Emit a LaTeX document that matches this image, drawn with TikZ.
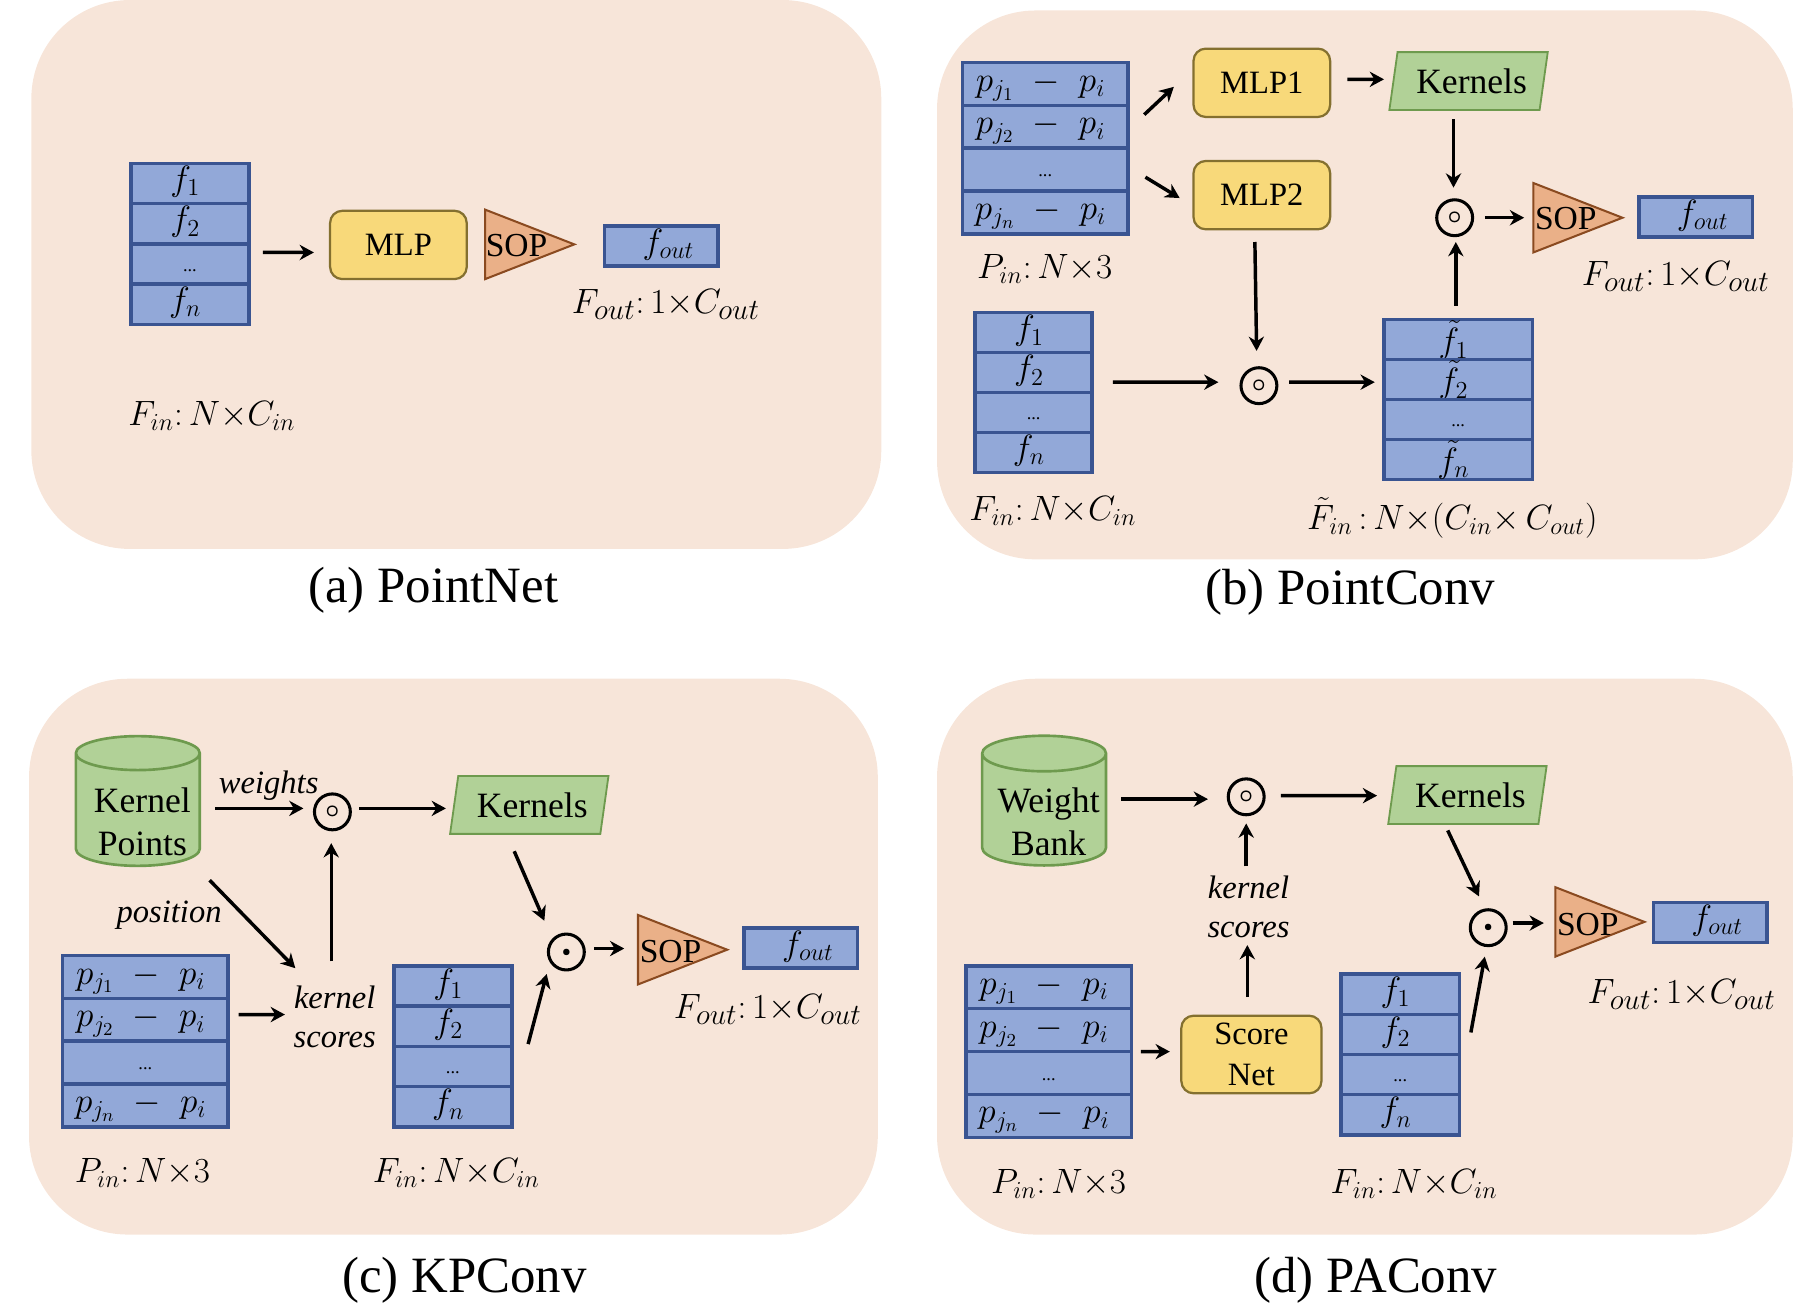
\documentclass[tikz,border=0pt]{standalone}
\usepackage{amsmath,amssymb}
\usepackage{fontspec}
\setmainfont{Liberation Serif}
\usepackage{xcolor}
\usetikzlibrary{shapes,arrows.meta,positioning,calc}

\definecolor{panelbg}{HTML}{F7E5D9}
\definecolor{cellfill}{HTML}{92A8D8}
\definecolor{celldraw}{HTML}{3A5491}
\definecolor{mlpfill}{HTML}{F8D97A}
\definecolor{mlpdraw}{HTML}{84702F}
\definecolor{kernfill}{HTML}{B1D197}
\definecolor{kerndraw}{HTML}{6E9A4E}
\definecolor{sopfill}{HTML}{EAB088}
\definecolor{sopdraw}{HTML}{8A4A20}

% one column of four cells: name, top, width, cell height, first, second, last
\newcommand{\featstack}[7]{%
    \node[cell, minimum width=#3, minimum height=#4, anchor=north] (#11) at (#2) {#5\kern4.5pt};
    \node[cell, minimum width=#3, minimum height=#4, below=0pt of #11] (#12) {#6\kern4.5pt};
    \node[cell, minimum width=#3, minimum height=#4, below=0pt of #12] (#13) {\fontsize{9}{10}\selectfont ...};
    \node[cell, minimum width=#3, minimum height=#4, below=0pt of #13] (#14) {#7\kern4.5pt};
}
\newcommand{\pjn}[1]{$p_{j_{#1}}\;-\,\,p_i$}
\newcommand{\ftil}[1]{\raisebox{-3pt}{$\tilde f_{#1}$}}
% text of a cylinder sits above its middle, so it is pushed down and to the right
\newcommand{\banklines}[2]{\kern4.5pt\raisebox{-5.7pt}[\height][\depth]{#1}\\\kern4.5pt\raisebox{-5.7pt}[\height][\depth]{#2}}

\begin{document}
\begin{tikzpicture}[
    x=0.02cm, y=-0.02cm,
    panel/.style={rectangle, fill=panelbg, rounded corners=1.7cm, inner sep=0pt},
    caption/.style={font=\fontsize{25}{30}\selectfont},
    cell/.style={rectangle, draw=celldraw, fill=cellfill, line width=1.7pt, inner sep=0pt, outer sep=0pt, font=\fontsize{18}{20}\selectfont, text height=11pt, text depth=4pt},
    mlp/.style={rectangle, draw=mlpdraw, fill=mlpfill, line width=1.1pt, rounded corners=6pt, minimum width=2.36cm, minimum height=1.18cm, align=center, font=\fontsize{16}{19.5}\selectfont, inner sep=0pt},
    kern/.style={trapezium, trapezium left angle=75, trapezium right angle=105, draw=kerndraw, fill=kernfill, line width=0.9pt, minimum width=2.74cm, minimum height=1cm, trapezium stretches=true, inner sep=0pt, font=\fontsize{17.5}{20}\selectfont, execute at begin node=\hspace*{3pt}},
    sop/.style={isosceles triangle, isosceles triangle stretches, draw=sopdraw, fill=sopfill, line width=1pt, minimum height=1.54cm, minimum width=1.2cm, inner sep=0pt, anchor=lower side},
    soptext/.style={font=\fontsize{16.5}{20}\selectfont, inner sep=0pt},
    fout/.style={rectangle, draw=celldraw, fill=cellfill, line width=1.7pt, minimum width=1.96cm, minimum height=0.69cm, inner sep=0pt, font=\fontsize{18.5}{20}\selectfont, text height=11pt, text depth=4pt},
    bank/.style={cylinder, shape border rotate=90, shape aspect=0.32, cylinder uses custom fill, cylinder body fill=kernfill, cylinder end fill=kernfill, draw=kerndraw, line width=1.3pt, minimum width=2.14cm, minimum height=2.24cm, inner sep=0pt, align=center, font=\fontsize{17.5}{21.5}\selectfont},
    dotprod/.style={circle, draw=black, line width=1.5pt, minimum size=0.62cm, inner sep=0pt, font=\fontsize{12}{14}\selectfont\boldmath},
    shape label/.style={inner sep=0pt, font=\fontsize{18}{22}\selectfont},
    out label/.style={inner sep=0pt, font=\fontsize{19}{22}\selectfont},
    wordlabel/.style={inner sep=0pt, align=center, font=\fontsize{16}{19.3}\selectfont\itshape},
    arr/.style={-{Stealth[length=7pt,width=7.5pt]}, line width=1.7pt, color=black}
]
    \useasboundingbox (0,0) rectangle (1568,1131);

    % Panels
    \node[panel, minimum width=14.68cm, minimum height=9.48cm]  (pa) at (394,237)    {};
    \node[panel, minimum width=14.78cm, minimum height=9.48cm]  (pb) at (1178.5,246) {};
    \node[panel, minimum width=14.66cm, minimum height=9.6cm]   (pc) at (391.5,826)  {};
    \node[panel, minimum width=14.78cm, minimum height=9.6cm]   (pd) at (1178.5,826) {};

    \node[caption] (capa) at (374,510)   {(a) PointNet};
    \node[caption] (capb) at (1166,511)  {(b) PointConv};
    \node[caption] (capc) at (401,1105)  {(c) KPConv};
    \node[caption] (capd) at (1188,1105) {(d) PAConv};

    % (a) PointNet
    \featstack{fa}{164,141}{2.04cm}{0.695cm}{$f_1$}{$f_2$}{$f_n$}
    \node[mlp]  (mlpa) at (344,211.5) {MLP};
    \node[sop]  (sopa) at (418,211)   {};
    \node[soptext] (sopta) at (446,212) {SOP};
    \node[fout] (fouta) at (571,212.5) {\hspace{7pt}$f_{out}$};
    \node[out label] (lfouta) at (575,263) {$F_{out}{:}\,1{\times}C_{out}$};
    \node[shape label] (lfina)  at (183,359) {$F_{in}{:}\, N{\times}C_{in}$};

    \draw[arr] ([shift={(12,7.5)}]fa2.south east) -- ([shift={(-13,6.5)}]mlpa.west);

    % (b) PointConv
    \featstack{pb}{902.5,54}{2.86cm}{0.74cm}{\pjn{1}}{\pjn{2}}{\pjn{n}}
    \featstack{fb}{892.5,270}{2.02cm}{0.69cm}{$f_1$}{$f_2$}{$f_n$}
    \featstack{ftb}{1259,276}{2.56cm}{0.69cm}{\ftil{1}}{\ftil{2}}{\ftil{n}}
    \node[mlp]  (mlpb) at (1089.5,71.5)  {MLP1};
    \node[mlp]  (mlpc) at (1089.5,168.5) {MLP2};
    \node[kern] (kernb) at (1268,70)     {Kernels};
    \node[dotprod] (odb) at (1256,188)   {$\circ$};
    \node[dotprod] (odc) at (1087,333)   {$\circ$};
    \node[sop]  (sopb) at (1323,188)     {};
    \node[soptext] (soptb) at (1352,189) {SOP};
    \node[fout] (foutb) at (1464,187.5)  {\hspace{7pt}$f_{out}$};
    \node[shape label] (lpinb)  at (902,232)  {$P_{in}{:}\, N{\times}3$};
    \node[out label] (lfoutb) at (1447,239) {$F_{out}{:}\,1{\times}C_{out}$};
    \node[shape label] (lfinb)  at (909,441)  {$F_{in}{:}\, N{\times}C_{in}$};
    \node[shape label] (lftb)   at (1254,447) {$\tilde F_{in}\,{:}\,N{\times}(C_{in}{\times}\,C_{out})$};

    \draw[arr] ([shift={(14,-29)}]pb2.south east) -- ([shift={(-16,3.5)}]mlpb.west);
    \draw[arr] ([shift={(15,25)}]pb2.south east)  -- ([shift={(-11,2.5)}]mlpc.west);
    \draw[arr] ([shift={(14,-3)}]mlpb.east)       -- ([shift={(-73,-1.5)}]kernb.center);
    \draw[arr] ([shift={(-13,33)}]kernb.center)   -- ([shift={(-1,-26)}]odb.center);
    \draw[arr] ([shift={(26,0)}]odb.center)       -- ([shift={(-7,0)}]sopb.lower side);
    \draw[arr] ([shift={(-2,-12)}]ftb1.north)     -- ([shift={(1,21)}]odb.center);
    \draw[arr] ([shift={(-6,10)}]mlpc.south)      -- ([shift={(-2,-30)}]odc.center);
    \draw[arr] ([shift={(18,-9)}]fb2.south east)  -- ([shift={(-35,-3)}]odc.center);
    \draw[arr] ([shift={(26,-3)}]odc.center)      -- ([shift={(-8,-15)}]ftb2.south west);

    % (c) KPConv
    \node[bank] (bankc) at (119,699.5) {\banklines{Kernel}{Points}};
    \featstack{pc}{125.5,825}{2.86cm}{0.74cm}{\pjn{1}}{\pjn{2}}{\pjn{n}}
    \featstack{fc}{391,834}{2.04cm}{0.695cm}{$f_1$}{$f_2$}{$f_n$}
    \node[kern] (kernc) at (457,695)    {Kernels};
    \node[dotprod] (odd) at (287,701)   {$\circ$};
    \node[dotprod] (ode) at (489,822)   {\fontsize{6}{7}\selectfont$\bullet$};
    \node[sop]  (sopc) at (550,820)     {};
    \node[soptext] (soptc) at (579,822) {SOP};
    \node[fout] (foutc) at (691.5,818.5) {\hspace{7pt}$f_{out}$};
    \node[wordlabel] (weights) at (232,678) {weights};
    \node[wordlabel] (position) at (146,790) {position};
    \node[wordlabel] (scorec) at (289,878) {kernel\\scores};
    \node[shape label] (lpinc)  at (123,1013) {$P_{in}{:}\, N{\times}3$};
    \node[shape label] (lfinc)  at (394,1013) {$F_{in}{:}\, N{\times}C_{in}$};
    \node[out label] (lfoutc) at (663,872)  {$F_{out}{:}\,1{\times}C_{out}$};

    \draw[arr] ([shift={(67,-1.5)}]bankc.center)  -- ([shift={(-25,-3)}]odd.center);
    \draw[arr] ([shift={(23,-3)}]odd.center)      -- ([shift={(-72,3)}]kernc.center);
    \draw[arr] ([shift={(-13,40)}]kernc.center)   -- ([shift={(-19,-27)}]ode.center);
    \draw[arr] ([shift={(24,-3)}]ode.center)      -- ([shift={(-11,-1)}]sopc.lower side);
    \draw[arr] ([shift={(-3,-48)}]scorec.center)  -- ([shift={(-1,27)}]odd.center);
    \draw[arr] ([shift={(62,60.5)}]bankc.center)  -- ([shift={(-34,-42)}]scorec.center);
    \draw[arr] ([shift={(9,-23)}]pc2.south east)  -- ([shift={(-43,-2)}]scorec.center);
    \draw[arr] ([shift={(14,-2)}]fc2.south east)  -- ([shift={(-17,19)}]ode.center);

    % (d) PAConv
    \node[bank] (bankd) at (901.5,699.5) {\banklines{Weight}{Bank}};
    \featstack{pd}{905.5,834}{2.86cm}{0.74cm}{\pjn{1}}{\pjn{2}}{\pjn{n}}
    \featstack{fd}{1209,841}{2.04cm}{0.695cm}{$f_1$}{$f_2$}{$f_n$}
    \node[mlp, minimum width=2.42cm, minimum height=1.34cm] (scored) at (1080.5,910.5) {Score\\[1pt]Net};
    \node[kern] (kernd) at (1267,686.5)  {Kernels};
    \node[dotprod] (odf) at (1076,688)   {$\circ$};
    \node[dotprod] (odg) at (1285,801)   {\fontsize{6}{7}\selectfont$\bullet$};
    \node[sop]  (sopd) at (1342,796)     {};
    \node[soptext] (soptd) at (1371,798) {SOP};
    \node[fout] (foutd) at (1476.5,796.5) {\hspace{7pt}$f_{out}$};
    \node[wordlabel] (kscored) at (1078,783) {kernel\\scores};
    \node[shape label] (lpind)  at (914,1022)  {$P_{in}{:}\, N{\times}3$};
    \node[shape label] (lfind)  at (1221,1022) {$F_{in}{:}\, N{\times}C_{in}$};
    \node[out label] (lfoutd) at (1452,859)  {$F_{out}{:}\,1{\times}C_{out}$};

    \draw[arr] ([shift={(66.5,-9.5)}]bankd.center) -- ([shift={(-33,2)}]odf.center);
    \draw[arr] ([shift={(30,-1)}]odf.center)      -- ([shift={(-78,0.5)}]kernd.center);
    \draw[arr] ([shift={(-17,30.5)}]kernd.center) -- ([shift={(-8,-27)}]odg.center);
    \draw[arr] ([shift={(21,-4)}]odg.center)      -- ([shift={(-9,1)}]sopd.lower side);
    \draw[arr] ([shift={(8,0)}]pd2.south east)    -- ([shift={(-9,-2.5)}]scored.west);
    \draw[arr] ([shift={(-3.5,-15)}]scored.north) -- ([shift={(-1,33)}]kscored.center);
    \draw[arr] ([shift={(-2,-35)}]kscored.center) -- ([shift={(0,23)}]odf.center);
    \draw[arr] ([shift={(10,-19)}]fd2.south east) -- ([shift={(-3,25)}]odg.center);
\end{tikzpicture}
\end{document}
